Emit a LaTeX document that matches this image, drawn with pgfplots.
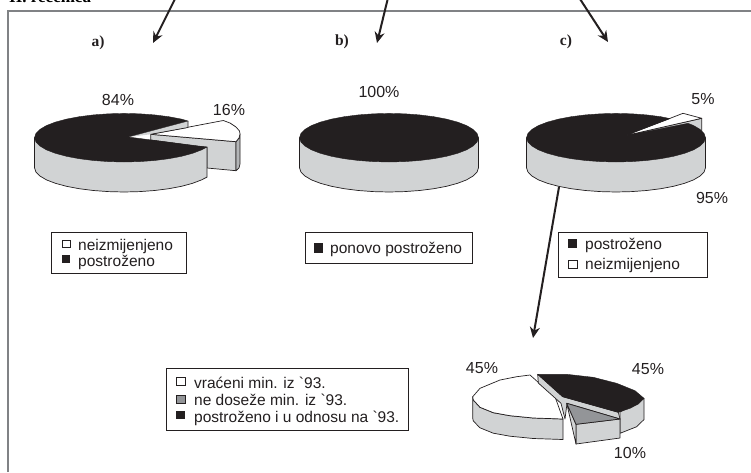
\documentclass[border=0pt]{standalone}
\usepackage{fontspec}
\setmainfont{Liberation Sans}
\newfontfamily\plainfont{Liberation Sans}
\newfontfamily\headfont{Liberation Serif}
\usepackage{pgfplots}
\pgfplotsset{compat=1.18}
\usetikzlibrary{arrows.meta}
\definecolor{ink}{HTML}{231F20}
\definecolor{wall}{HTML}{D1D3D4}
\definecolor{midgrey}{HTML}{939598}
\definecolor{framegrey}{HTML}{808285}
\tikzset{bigarrow/.style={-{Stealth[length=11pt,width=10pt]}, ink, line width=2pt}}
\newcommand{\pct}[1]{\fontsize{16}{18}\selectfont #1}
\newcommand{\leg}[1]{\fontsize{15.5}{18}\selectfont #1}
\newcommand{\btick}{{\plainfont\char96}}
\begin{document}
\begin{tikzpicture}
\useasboundingbox (0pt,0pt) rectangle (751pt,472pt);
\begin{axis}[
    at={(0pt,0pt)}, anchor=south west,
    scale only axis, width=751pt, height=472pt,
    xmin=0, xmax=751, ymin=0, ymax=472,
    y dir=reverse, hide axis,
    pieline/.style={draw=ink, line width=0.7pt, line join=round},
  ]
  % frame, cut off on the right and at the bottom
  \addplot[draw=framegrey, line width=1.3pt] coordinates {(8,472) (8,11) (751,11)};

  % a) exploded 16 % wedge
  \addplot[pieline, fill=wall] coordinates {(150.7,134.3) (236,141.7) (236,170.7) (207,168) (207,147.7) (150.7,140)} --cycle;
  \addplot[pieline, fill=midgrey!70!white] coordinates {(236,141.7) (239,138) (240,134) (240,164) (239,168) (236,170.7)} --cycle;
  \addplot[pieline, fill=white] coordinates {(150.7,134.3) (223.3,120.5) (230,123) (236,127) (239.5,131) (240,134) (239,138) (236,141.7)} --cycle;
  % a) 84 %
  \addplot[pieline, fill=wall] coordinates {(207,147.1) (207,177.1) (201.5,179.9) (192.6,183.3) (181.5,186.3) (168.8,188.7) (154.6,190.5) (139.5,191.6) (124,192) (108.5,191.6) (93.4,190.5) (79.2,188.7) (66.5,186.3) (55.4,183.3) (46.5,179.9) (39.9,176) (35.9,171.9) (34.5,167.7) (34.5,137.7)} --cycle;
  \addplot[draw=none, fill=wall] coordinates {(128,137) (188,121) (188,127.5) (150.7,134.3)} --cycle;
  \addplot[pieline] coordinates {(188,121) (188,127.5) (150.7,134.3)};
  \addplot[draw=ink, fill=ink] coordinates {(128,137) (207,147.1) (201.5,149.9) (192.6,153.3) (181.5,156.3) (168.8,158.7) (154.6,160.5) (139.5,161.6) (124,162) (108.5,161.6) (93.4,160.5) (79.2,158.7) (66.5,156.3) (55.4,153.3) (46.5,149.9) (39.9,146) (35.9,141.9) (34.5,137.7) (35.9,133.5) (39.9,129.4) (46.5,125.5) (55.4,122.1) (66.5,119.1) (79.2,116.7) (93.4,114.9) (108.5,113.8) (124,113.4) (139.5,113.8) (154.6,114.9) (168.8,116.7) (181.5,119.1) (188,121)} --cycle;

  % b) 100 %
  \addplot[pieline, fill=wall] coordinates {(478.5,137.7) (478.5,167.7) (477.1,171.9) (473.1,176) (466.5,179.9) (457.6,183.3) (446.5,186.3) (433.8,188.7) (419.6,190.5) (404.5,191.6) (389,192) (373.5,191.6) (358.4,190.5) (344.2,188.7) (331.5,186.3) (320.4,183.3) (311.5,179.9) (304.9,176) (300.9,171.9) (299.5,167.7) (299.5,137.7)} --cycle;
  \addplot[draw=ink, fill=ink] coordinates {(478.5,137.7) (477.1,141.9) (473.1,146) (466.5,149.9) (457.6,153.3) (446.5,156.3) (433.8,158.7) (419.6,160.5) (404.5,161.6) (389,162) (373.5,161.6) (358.4,160.5) (344.2,158.7) (331.5,156.3) (320.4,153.3) (311.5,149.9) (304.9,146) (300.9,141.9) (299.5,137.7) (300.9,133.5) (304.9,129.4) (311.5,125.5) (320.4,122.1) (331.5,119.1) (344.2,116.7) (358.4,114.9) (373.5,113.8) (389,113.4) (404.5,113.8) (419.6,114.9) (433.8,116.7) (446.5,119.1) (457.6,122.1) (466.5,125.5) (473.1,129.4) (477.1,133.5)} --cycle;

  % c) 5 % wedge, then 95 %
  \addplot[pieline, fill=wall] coordinates {(625,135.7) (701.7,118.3) (701.7,132) (690,126)} --cycle;
  \addplot[pieline, fill=white] coordinates {(625,135.7) (683,113.3) (701.7,118.3)} --cycle;
  \addplot[pieline, fill=wall] coordinates {(705.5,137.7) (705.5,167.7) (704.1,171.9) (700.1,176) (693.5,179.9) (684.6,183.3) (673.5,186.3) (660.8,188.7) (646.6,190.5) (631.5,191.6) (616,192) (600.5,191.6) (585.4,190.5) (571.2,188.7) (558.5,186.3) (547.4,183.3) (538.5,179.9) (531.9,176) (527.9,171.9) (526.5,167.7) (526.5,137.7)} --cycle;
  \addplot[draw=ink, fill=ink] coordinates {(625,135.7) (688,123.3) (693.5,125.5) (700.1,129.4) (704.1,133.5) (705.5,137.7) (704.1,141.9) (700.1,146) (693.5,149.9) (684.6,153.3) (673.5,156.3) (660.8,158.7) (646.6,160.5) (631.5,161.6) (616,162) (600.5,161.6) (585.4,160.5) (571.2,158.7) (558.5,156.3) (547.4,153.3) (538.5,149.9) (531.9,146) (527.9,141.9) (526.5,137.7) (527.9,133.5) (531.9,129.4) (538.5,125.5) (547.4,122.1) (558.5,119.1) (571.2,116.7) (585.4,114.9) (600.5,113.8) (616,113.4) (631.5,113.8) (646.6,114.9) (660.8,116.7) (670,118.6)} --cycle;

  % small pie: 45 % white
  \addplot[pieline, fill=wall] coordinates {(472.7,396.7) (473.3,400) (480,407.3) (493.3,412.7) (510,415.7) (533.3,418) (563,419) (563,439.5) (533.3,438.5) (510,436.2) (493.3,433.2) (480,427.8) (473.3,421) (472.7,418)} --cycle;
  \addplot[pieline, fill=white] coordinates {(530,375) (545,388.3) (555,396.7) (563,419) (533.3,418) (510,415.7) (493.3,412.7) (480,407.3) (473.3,400) (472.7,396.7) (480,388.3) (500,380) (516.7,376.7)} --cycle;
  % small pie: 45 % black
  \addplot[pieline, fill=wall] coordinates {(644,398.3) (644,419.5) (636.7,426.7) (620,433.3) (620,412) } --cycle;
  \addplot[pieline, fill=wall] coordinates {(537.7,374.3) (562.7,396.7) (618.3,412.3) (620,419) (567,403.3) (565,419) (561,403.3) (538.3,383)} --cycle;
  \addplot[draw=ink, fill=ink] coordinates {(537.7,374.3) (566.7,374.3) (593.3,377.3) (616.7,383.3) (635,390.7) (644,398.3) (638.3,404) (630,408.3) (618.3,412.3) (562.7,396.7)} --cycle;
  % small pie: 10 % grey
  \addplot[pieline, fill=wall] coordinates {(576,424.3) (620,419) (620,438) (576,444)} --cycle;
  \addplot[pieline, fill=wall] coordinates {(566.7,403.3) (576,424.3) (576,444)} --cycle;
  \addplot[pieline, fill=midgrey] coordinates {(566.7,403.3) (620,419) (576,424.3)} --cycle;

  % arrows
  \draw[bigarrow] (175,-1) -- (153,43);
  \draw[bigarrow] (387.7,-1) -- (377,43);
  \draw[bigarrow] (580,-1) -- (608,42);
  \draw[bigarrow] (559,187) -- (533,338);

  % headings
  \node[anchor=base west, inner sep=0pt] at (9,2.5) {\headfont\bfseries\fontsize{17}{18}\selectfont II. rečenica};
  \node[ink] at (98,42.5) {\headfont\bfseries\fontsize{15.5}{16}\selectfont a)};
  \node[ink] at (342,42) {\headfont\bfseries\fontsize{15.5}{16}\selectfont b)};
  \node[ink] at (566,42) {\headfont\bfseries\fontsize{15.5}{16}\selectfont c)};

  % percentages
  \node[ink] at (118,100) {\pct{84\%}};
  \node[ink] at (229,110) {\pct{16\%}};
  \node[ink] at (379,92) {\pct{100\%}};
  \node[ink] at (703,99) {\pct{5\%}};
  \node[ink] at (712,198) {\pct{95\%}};
  \node[ink] at (482,368) {\pct{45\%}};
  \node[ink] at (648,369) {\pct{45\%}};
  \node[ink] at (630,453) {\pct{10\%}};

  % legend a
  \draw[ink, line width=0.7pt, fill=white] (51.7,232.5) rectangle (186,273.5);
  \draw[ink, line width=0.5pt, fill=white] (62,240) rectangle (70,247);
  \fill[ink] (62,255) rectangle (70,263);
  \node[ink, anchor=base west, inner sep=0pt] at (78,250) {\leg{neizmijenjeno}};
  \node[ink, anchor=base west, inner sep=0pt] at (78,266) {\leg{postroženo}};
  % legend b
  \draw[ink, line width=0.7pt, fill=white] (305,232.5) rectangle (472.3,263.5);
  \fill[ink] (313.5,243) rectangle (323,253);
  \node[ink, anchor=base west, inner sep=0pt] at (330,253) {\leg{ponovo postroženo}};
  % legend c
  \draw[ink, line width=0.7pt, fill=white] (558,232.5) rectangle (707,277);
  \fill[ink] (567.5,239) rectangle (577,247.5);
  \draw[ink, line width=0.5pt, fill=white] (568,260) rectangle (577,268);
  \node[ink, anchor=base west, inner sep=0pt] at (585,249) {\leg{postroženo}};
  \node[ink, anchor=base west, inner sep=0pt] at (585,269) {\leg{neizmijenjeno}};
  % legend of the small pie
  \draw[ink, line width=0.7pt, fill=white] (166.7,368.5) rectangle (408.5,430.5);
  \draw[ink, line width=0.5pt, fill=white] (176.5,377.5) rectangle (185,385);
  \draw[ink, line width=0.5pt, fill=midgrey] (176.5,395) rectangle (185,403);
  \fill[ink] (176,410.7) rectangle (185,419);
  \node[ink, anchor=base west, inner sep=0pt] at (194,388) {\leg{vraćeni min. iz \btick 93.}};
  \node[ink, anchor=base west, inner sep=0pt] at (194,405) {\leg{ne doseže min. iz \btick 93.}};
  \node[ink, anchor=base west, inner sep=0pt] at (194,422) {\leg{postroženo i u odnosu na \btick 93.}};
\end{axis}
\end{tikzpicture}
\end{document}
